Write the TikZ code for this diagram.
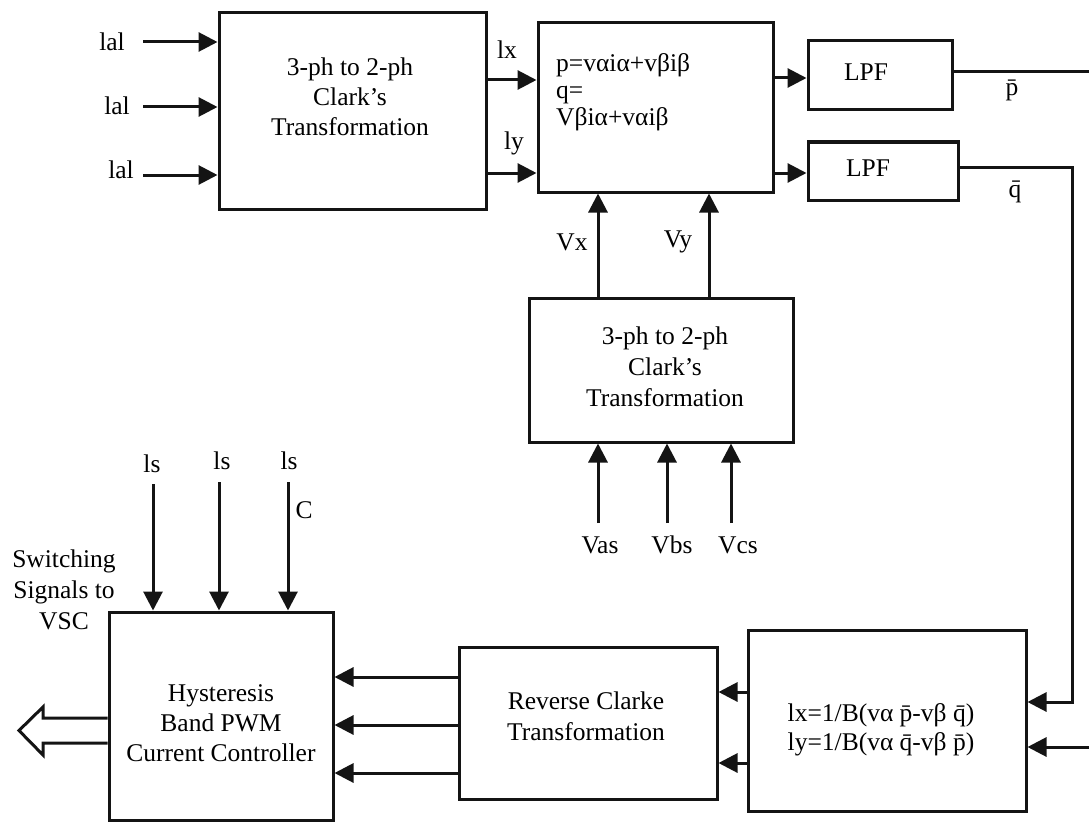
\documentclass[tikz,border=0pt]{standalone}
\usepackage{fontspec}
\setmainfont{Liberation Serif}
\usetikzlibrary{arrows.meta,calc}
\begin{document}
\begin{tikzpicture}[x=1pt,y=-1pt,
  every node/.style={font=\fontsize{25.5}{30}\selectfont, text=black},
  box/.style={draw=black!92, line width=3pt, inner sep=0pt, rectangle},
  wire/.style={draw=black!92, line width=3pt},
  arr/.style={wire, -{Triangle[length=19pt,width=19pt]}},
  lbl/.style={inner sep=0pt}]
\useasboundingbox (0,0) rectangle (1089,832);
\clip (0,0) rectangle (1089,832);
\fill[white] (0,0) rectangle (1089,832);
% boxes
\node[box, minimum width=267pt, minimum height=196pt] (A) at (352.5,111) {};
\node[box, minimum width=235pt, minimum height=169pt] (B) at (655.5,107.5) {};
\node[box, minimum width=144pt, minimum height=69pt] (L1) at (880,75.5) {};
\node[box, minimum width=150pt, minimum height=58pt] (L2) at (883,171) {};
\node[box, minimum width=264pt, minimum height=144pt] (C) at (661,370) {};
\node[box, minimum width=224pt, minimum height=208pt] (D) at (221,716) {};
\node[box, minimum width=258pt, minimum height=152pt] (E) at (588,723) {};
\node[box, minimum width=278pt, minimum height=181pt] (F) at (887,720.5) {};
% box texts
\node[lbl, align=center] (At) at (350,97) {3-ph to 2-ph\\Clark’s\\Transformation};
\node[lbl, align=left, anchor=west, font=\fontsize{25.5}{27}\selectfont] (Bt) at (556,92) {p=vαiα+vβiβ\\q=\\Vβiα+vαiβ};
\node[lbl] (L1t) at (866,72) {LPF};
\node[lbl] (L2t) at (868,168) {LPF};
\node[lbl, align=center, font=\fontsize{25.5}{31}\selectfont] (Ct) at (665,367) {3-ph to 2-ph\\Clark’s\\Transformation};
\node[lbl, align=center] (Dt) at (221,723) {Hysteresis\\Band PWM\\Current Controller};
\node[lbl, align=center, font=\fontsize{25.5}{31}\selectfont] (Et) at (586,716) {Reverse Clarke\\Transformation};
\node[lbl, align=center, font=\fontsize{25.5}{29}\selectfont] (Ft) at (881,730) {lx=1/B(vα \=p-vβ \=q)\\ly=1/B(vα \=q-vβ \=p)};
\node[lbl, align=center, font=\fontsize{25.5}{31}\selectfont] (sw) at (64,590) {Switching\\Signals to\\VSC};
% input labels and arrows to A
\node[lbl] (la1) at (112,42) {lal};
\node[lbl] (la2) at (117,106) {lal};
\node[lbl] (la3) at (121,170) {lal};
\coordinate (i1) at (143,42);
\coordinate (i2) at (143,107);
\coordinate (i3) at (143,175);
\draw[arr] (i1) -- (i1 -| A.west);
\draw[arr] (i2) -- (i2 -| A.west);
\draw[arr] (i3) -- (i3 -| A.west);
% A -> B
\coordinate (ax) at (0,80);
\coordinate (ay) at (0,173);
\draw[arr] (A.east |- ax) -- (B.west |- ax);
\draw[arr] (A.east |- ay) -- (B.west |- ay);
\node[lbl] (lx) at (507,50) {lx};
\node[lbl] (ly) at (514,143) {ly};
% B -> LPFs
\coordinate (bp) at (0,78);
\coordinate (bq) at (0,173);
\draw[arr] (B.east |- bp) -- (L1.west |- bp);
\draw[arr] (B.east |- bq) -- (L2.west |- bq);
% C -> B
\coordinate (vx) at (598,0);
\coordinate (vy) at (709,0);
\draw[arr] (C.north -| vx) -- (B.south -| vx);
\draw[arr] (C.north -| vy) -- (B.south -| vy);
\node[lbl] (Vx) at (572,242) {Vx};
\node[lbl] (Vy) at (678,242) {Vy};
% inputs to C
\coordinate (va) at (598,523);
\coordinate (vb) at (667,523);
\coordinate (vc) at (731,523);
\draw[arr] (va) -- (va |- C.south);
\draw[arr] (vb) -- (vb |- C.south);
\draw[arr] (vc) -- (vc |- C.south);
\node[lbl] (Vas) at (600,545) {Vas};
\node[lbl] (Vbs) at (672,545) {Vbs};
\node[lbl] (Vcs) at (738,545) {Vcs};
% ls inputs to D
\coordinate (s1) at (153,484);
\coordinate (s2) at (219,482);
\coordinate (s3) at (288,482);
\draw[arr] (s1) -- (s1 |- D.north);
\draw[arr] (s2) -- (s2 |- D.north);
\draw[arr] (s3) -- (s3 |- D.north);
\node[lbl] (ls1) at (152,464) {ls};
\node[lbl] (ls2) at (222,461) {ls};
\node[lbl] (ls3) at (289,461) {ls};
\node[lbl] (Cl) at (304,510) {C};
% LPF outputs
\node[lbl] (pbar) at (1012,90) {\=p};
\node[lbl] (qbar) at (1015,192) {\=q};
\coordinate (pb1) at (1102,72);
\coordinate (pb2) at (1102,747);
\draw[arr] (L1.east |- pb1) -- (pb1) -- (pb2) -- (pb2 -| F.east);
\coordinate (qb1) at (1072,167);
\coordinate (qb2) at (1072,702);
\draw[arr] (L2.east |- qb1) -- (qb1) -- (qb2) -- (qb2 -| F.east);
% F -> E
\coordinate (fe1) at (0,692);
\coordinate (fe2) at (0,763);
\draw[arr] (F.west |- fe1) -- (E.east |- fe1);
\draw[arr] (F.west |- fe2) -- (E.east |- fe2);
% E -> D
\coordinate (ed1) at (0,677);
\coordinate (ed2) at (0,725);
\coordinate (ed3) at (0,773);
\draw[arr] (E.west |- ed1) -- (D.east |- ed1);
\draw[arr] (E.west |- ed2) -- (D.east |- ed2);
\draw[arr] (E.west |- ed3) -- (D.east |- ed3);
% hollow output arrow
\draw[wire, line join=miter] (D.west |- 0,718) -- (43,718) -- (43,707) -- (19,730.5) -- (43,755) -- (43,743) -- (D.west |- 0,743);
\end{tikzpicture}
\end{document}
